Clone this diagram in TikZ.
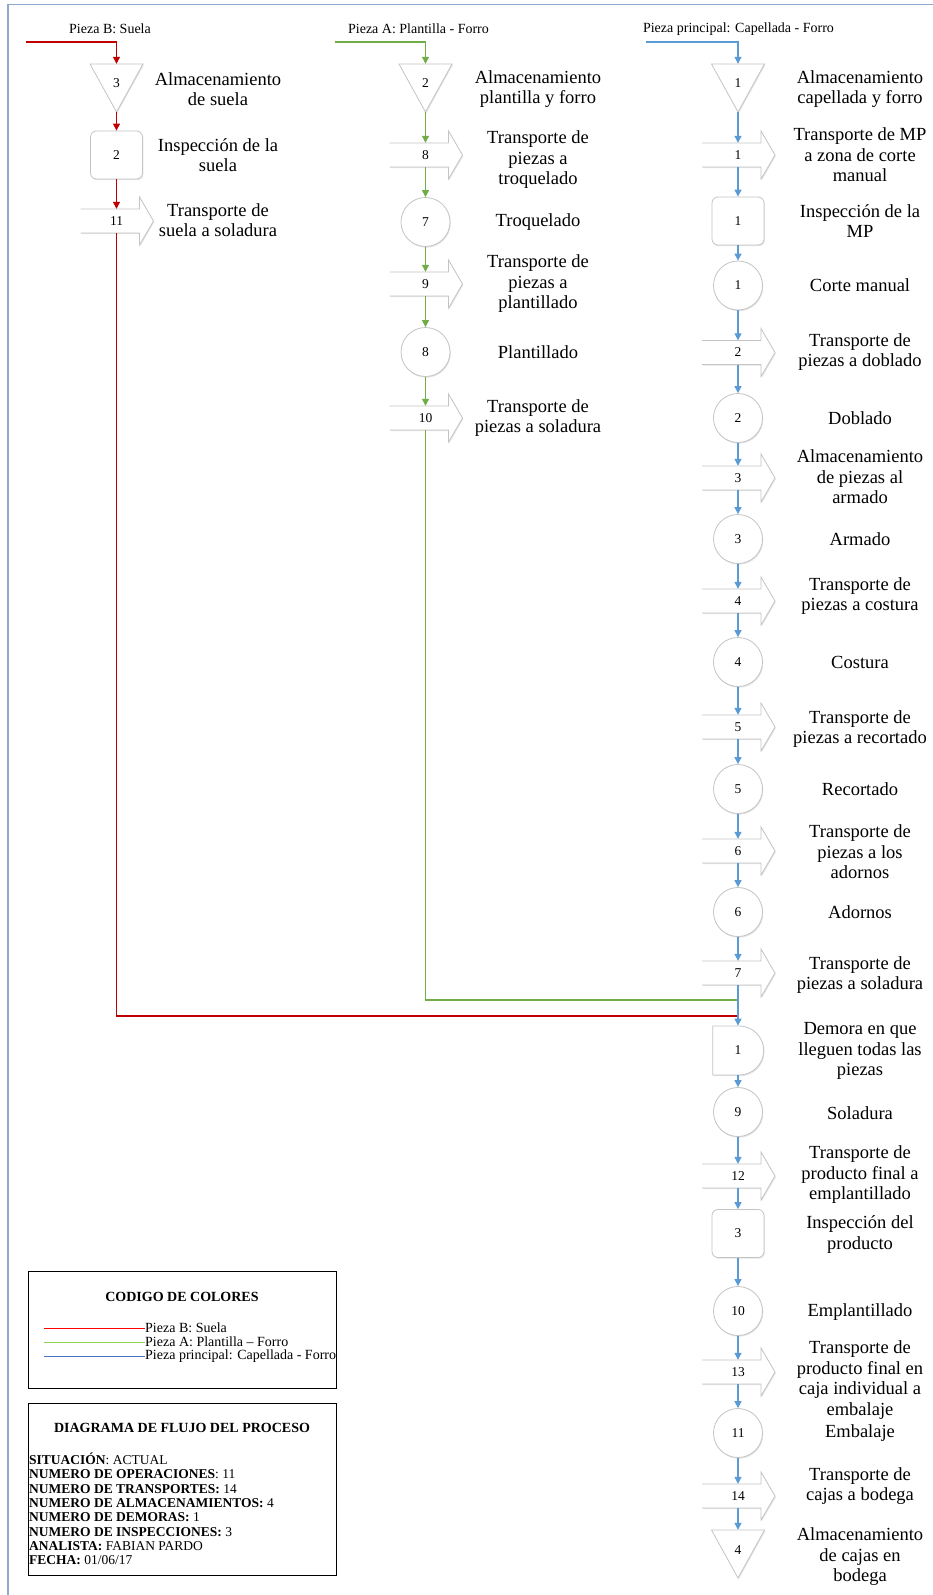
\documentclass[tikz,border=0pt]{standalone}
\usepackage{fontspec}
\setmainfont{Liberation Serif}
\usetikzlibrary{arrows.meta,shapes.misc,shadows}

\definecolor{cRed}{HTML}{C00000}
\definecolor{cGreen}{HTML}{70AD47}
\definecolor{cBlue}{HTML}{5B9BD5}
\definecolor{lRed}{HTML}{FF0000}
\definecolor{lGreen}{HTML}{92D050}
\definecolor{lBlue}{HTML}{4472C4}
\definecolor{frameC}{HTML}{8DA9CF}
\definecolor{shpC}{HTML}{C4C4C4}

\tikzset{
  shp/.style={draw=shpC, line width=0.8pt, fill=white,
    drop shadow={shadow xshift=0.8pt, shadow yshift=-1.2pt, fill=black!30, opacity=0.35}},
  box/.style={inner sep=0pt, font=\fontsize{13.5}{15}\selectfont},
  opnode/.style={shp, box, circle, minimum size=49pt},
  insnode/.style={shp, box, rounded corners=6pt, minimum width=52pt, minimum height=48pt},
  delnode/.style={shp, box, rounded rectangle, rounded rectangle left arc=none, minimum width=51pt, minimum height=49pt},
  lbl/.style={align=center, inner sep=0pt, font=\fontsize{18.5}{20.5}\selectfont},
  hdr/.style={inner sep=0pt, font=\fontsize{14}{16}\selectfont},
  flow/.style={line width=1.2pt, -{Triangle[length=7pt,width=7pt]}},
  wire/.style={line width=1.2pt},
  legbox/.style={draw=black, line width=1pt, inner sep=0pt},
  legtxt/.style={anchor=west, inner sep=0pt, font=\fontsize{14}{16}\selectfont},
  legttl/.style={inner sep=0pt, font=\bfseries\fontsize{14}{16}\selectfont},
  sumtxt/.style={anchor=west, inner sep=0pt, text height=9pt, text depth=0pt, font=\fontsize{13.5}{15}\selectfont},
}

% storage: inverted triangle; #1 name, #2 x, #3 y of box centre, #4 number
\newcommand\flowStore[4]{%
  \draw[shp] (#2-26.5,#3-24) -- (#2+26.5,#3-24) -- (#2,#3+24) -- cycle;
  \node[box, minimum width=53pt, minimum height=48pt, text height=6pt, text depth=6pt] (#1) at (#2,#3) {#4};}

% transport: block arrow pointing right; #1 name, #2 x, #3 y, #4 number
\newcommand\flowMove[4]{%
  \draw[shp] (#2-36,#3-12) -- (#2+23,#3-12) -- (#2+23,#3-24) -- (#2+37,#3)
     -- (#2+23,#3+24) -- (#2+23,#3+12) -- (#2-36,#3+12);
  \node[box, minimum width=72pt, minimum height=24pt] (#1) at (#2,#3) {#4};}

\begin{document}
\begin{tikzpicture}[x=1pt,y=-1pt]
\useasboundingbox (0,0) rectangle (933,1595);
\draw[frameC, line width=1.5pt] (8,1595) -- (8,4.5) -- (933,4.5);

% ---------- headers ----------
\node[hdr] (hB) at (110,29) {Pieza B: Suela};
\node[hdr] (hA) at (418.5,29) {Pieza A: Plantilla - Forro};
\node[hdr] (hP) at (738.5,29) {Pieza principal: Capellada - Forro};
\coordinate (sB) at (26,42);
\coordinate (sA) at (335,42);
\coordinate (sP) at (646,42);

% ---------- Pieza B: suela ----------
\flowStore{SB}{116.5}{88}{3}
\node[insnode] (I2) at (116.5,155) {2};
\flowMove{T11}{116.5}{221}{11}

\node[lbl] (LB1) at (218,89) {Almacenamiento\\de suela};
\node[lbl] (LB2) at (218,155) {Inspección de la\\suela};
\node[lbl] (LB3) at (218,220) {Transporte de\\suela a soladura};

% ---------- Pieza A: plantilla - forro ----------
\flowStore{SA}{425.5}{88}{2}
\flowMove{T8}{425.5}{155}{8}
\node[opnode] (O7) at (425.5,222) {7};
\flowMove{T9}{425.5}{284}{9}
\node[opnode] (O8) at (425.5,352) {8};
\flowMove{T10}{425.5}{418}{10}

\node[lbl] (LA1) at (538,89) {Almacenamiento\\plantilla y forro};
\node[lbl] (LA2) at (538,160) {Transporte de\\piezas a\\troquelado};
\node[lbl] (LA3) at (538,222) {Troquelado};
\node[lbl] (LA4) at (538,284) {Transporte de\\piezas a\\plantillado};
\node[lbl] (LA5) at (538,352) {Plantillado};
\node[lbl] (LA6) at (538,418) {Transporte de\\piezas a soladura};

% ---------- Pieza principal: capellada - forro ----------
\flowStore{S1}{738}{88}{1}
\flowMove{T1}{738}{155}{1}
\node[insnode] (I1) at (738,221) {1};
\node[opnode] (O1) at (738,285.5) {1};
\flowMove{T2}{738}{352.5}{2}
\node[opnode] (O2) at (738,418) {2};
\flowMove{T3}{738}{478}{3}
\node[opnode] (O3) at (738,539) {3};
\flowMove{T4}{738}{601}{4}
\node[opnode] (O4) at (738,662) {4};
\flowMove{T5}{738}{727}{5}
\node[opnode] (O5) at (738,789) {5};
\flowMove{T6}{738}{851}{6}
\node[opnode] (O6) at (738,912) {6};
\flowMove{T7}{738}{973}{7}
\node[delnode] (D1) at (738,1050.5) {1};
\node[opnode] (O9) at (738,1112) {9};
\flowMove{T12}{738}{1176}{12}
\node[insnode] (I3) at (738,1233.5) {3};
\node[opnode] (O10) at (738,1311) {10};
\flowMove{T13}{738}{1372}{13}
\node[opnode] (O11) at (738,1433) {11};
\flowMove{T14}{738}{1496}{14}
\flowStore{S4}{738}{1554}{4}

\node[lbl] (LP1) at (860,89) {Almacenamiento\\capellada y forro};
\node[lbl] (LP2) at (860,155) {Transporte de MP\\a zona de corte\\manual};
\node[lbl] (LP3) at (860,221) {Inspección de la\\MP};
\node[lbl] (LP4) at (860,285) {Corte manual};
\node[lbl] (LP5) at (860,352) {Transporte de\\piezas a doblado};
\node[lbl] (LP6) at (860,418) {Doblado};
\node[lbl] (LP7) at (860,477) {Almacenamiento\\de piezas al\\armado};
\node[lbl] (LP8) at (860,539) {Armado};
\node[lbl] (LP9) at (860,596) {Transporte de\\piezas a costura};
\node[lbl] (LP10) at (860,662) {Costura};
\node[lbl] (LP11) at (860,729) {Transporte de\\piezas a recortado};
\node[lbl] (LP12) at (860,789) {Recortado};
\node[lbl] (LP13) at (860,852) {Transporte de\\piezas a los\\adornos};
\node[lbl] (LP14) at (860,912) {Adornos};
\node[lbl] (LP15) at (860,975) {Transporte de\\piezas a soladura};
\node[lbl] (LP16) at (860,1051) {Demora en que\\lleguen todas las\\piezas};
\node[lbl] (LP17) at (860,1113) {Soladura};
\node[lbl] (LP18) at (860,1175) {Transporte de\\producto final a\\emplantillado};
\node[lbl] (LP19) at (860,1234.5) {Inspección del\\producto};
\node[lbl] (LP20) at (860,1312) {Emplantillado};
\node[lbl] (LP21) at (860,1380) {Transporte de\\producto final en\\caja individual a\\embalaje};
\node[lbl] (LP22) at (860,1433) {Embalaje};
\node[lbl] (LP23) at (860,1486) {Transporte de\\cajas a bodega};
\node[lbl] (LP24) at (860,1557) {Almacenamiento\\de cajas en\\bodega};

% ---------- connectors ----------
\coordinate (jG) at (738,1000);
\coordinate (jR) at (738,1016);

\draw[flow, cRed] (sB) -| (SB.north);
\foreach \a/\b in {SB/I2, I2/T11}
  \draw[flow, cRed] (\a.south) -- (\b.north);
\draw[wire, cRed] (T11.south) |- (jR);

\draw[flow, cGreen] (sA) -| (SA.north);
\foreach \a/\b in {SA/T8, T8/O7, O7/T9, T9/O8, O8/T10}
  \draw[flow, cGreen] (\a.south) -- (\b.north);
\draw[wire, cGreen] (T10.south) |- (jG);

\draw[flow, cBlue] (sP) -| (S1.north);
\foreach \a/\b in {S1/T1, T1/I1, I1/O1, O1/T2, T2/O2, O2/T3, T3/O3, O3/T4,
                   T4/O4, O4/T5, T5/O5, O5/T6, T6/O6, O6/T7, T7/D1, D1/O9,
                   O9/T12, T12/I3, I3/O10, O10/T13, T13/O11, O11/T14, T14/S4}
  \draw[flow, cBlue] (\a.south) -- (\b.north);

% ---------- colour key ----------
\node[legbox, minimum width=308pt, minimum height=117pt, anchor=north west] (keyBox) at (28,1271) {};
\node[legttl] (keyTitle) at (182,1297) {CODIGO DE COLORES};
\coordinate (kR) at (44,1328);
\coordinate (kG) at (44,1342);
\coordinate (kP) at (44,1356);
\node[legtxt] (kRt) at (145,1328) {Pieza B: Suela};
\node[legtxt] (kGt) at (145,1342) {Pieza A: Plantilla – Forro};
\node[legtxt] (kPt) at (145,1356) {Pieza principal: Capellada - Forro};
\draw[lRed, line width=1pt] (kR) -- (kRt.west);
\draw[lGreen, line width=1pt] (kG) -- (kGt.west);
\draw[lBlue, line width=1pt] (kP) -- (kPt.west);

% ---------- summary ----------
\node[legbox, minimum width=308pt, minimum height=172pt, anchor=north west] (sumBox) at (28,1403) {};
\node[legttl] (sumTitle) at (182,1428) {DIAGRAMA DE FLUJO DEL PROCESO};
\node[sumtxt] (s1) at (29,1460) {\textbf{SITUACIÓN}: ACTUAL};
\node[sumtxt] (s2) at (29,1474.3) {\textbf{NUMERO DE OPERACIONES}: 11};
\node[sumtxt] (s3) at (29,1488.6) {\textbf{NUMERO DE TRANSPORTES:} 14};
\node[sumtxt] (s4) at (29,1502.9) {\textbf{NUMERO DE ALMACENAMIENTOS:} 4};
\node[sumtxt] (s5) at (29,1517.2) {\textbf{NUMERO DE DEMORAS:} 1};
\node[sumtxt] (s6) at (29,1531.5) {\textbf{NUMERO DE INSPECCIONES:} 3};
\node[sumtxt] (s7) at (29,1545.8) {\textbf{ANALISTA:} FABIAN PARDO};
\node[sumtxt] (s8) at (29,1560) {\textbf{FECHA:} 01/06/17};
\end{tikzpicture}
\end{document}
